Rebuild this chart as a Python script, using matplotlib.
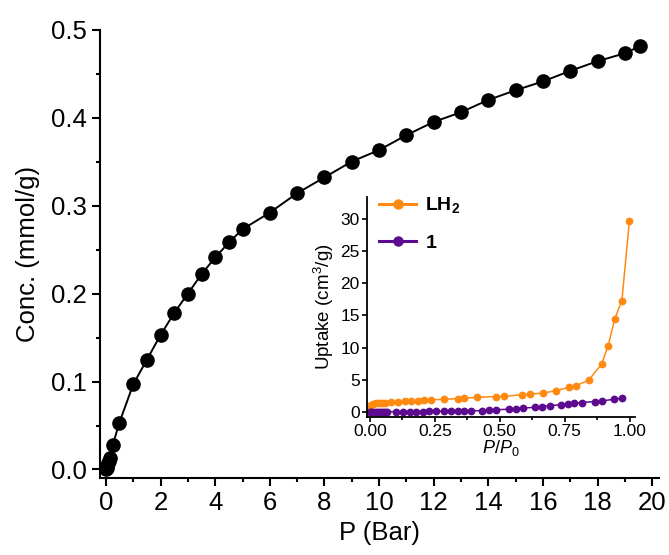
import numpy as np
import matplotlib
matplotlib.use('Agg')
import matplotlib.pyplot as plt
from matplotlib.ticker import MultipleLocator

plt.rcParams['font.family'] = ['Liberation Sans', 'DejaVu Sans']
plt.rcParams['mathtext.fontset'] = 'custom'
plt.rcParams['mathtext.rm'] = 'Liberation Sans'
plt.rcParams['mathtext.it'] = 'Liberation Sans:italic'
plt.rcParams['mathtext.bf'] = 'Liberation Sans:bold'

# main isotherm
pressure = [0.01, 0.03, 0.05, 0.07, 0.1, 0.13, 0.25, 0.48, 1.0, 1.5, 2.0, 2.5, 3.0, 3.5,
            4.0, 4.5, 5.0, 6.0, 7.0, 8.0, 9.0, 10.0, 11.0, 12.0, 13.0, 14.0, 15.0,
            16.0, 17.0, 18.0, 19.0, 19.55]
conc = [0.0, 0.002, 0.004, 0.007, 0.010, 0.013, 0.028, 0.0525, 0.097, 0.125, 0.153, 0.178,
        0.200, 0.222, 0.241, 0.258, 0.273, 0.292, 0.314, 0.332, 0.350, 0.363, 0.380,
        0.395, 0.406, 0.420, 0.431, 0.441, 0.453, 0.464, 0.473, 0.481]

# inset: LH2
lh2_x = [0.0, 0.005, 0.013, 0.025, 0.036, 0.046, 0.057, 0.083, 0.108, 0.134, 0.159,
         0.185, 0.21, 0.236, 0.287, 0.338, 0.363, 0.414, 0.484, 0.516, 0.586, 0.615,
         0.666, 0.717, 0.768, 0.794, 0.843, 0.892, 0.917, 0.943, 0.970, 0.999]
lh2_y = [0.9, 1.1, 1.28, 1.38, 1.43, 1.47, 1.5, 1.53, 1.62, 1.7, 1.75, 1.8, 1.86, 1.92,
         2.0, 2.12, 2.16, 2.3, 2.42, 2.45, 2.7, 2.8, 2.95, 3.35, 3.85, 4.1, 5.0, 7.45,
         10.3, 14.5, 17.3, 29.7]

# inset: compound 1
c1_x = [0.0, 0.005, 0.01, 0.018, 0.026, 0.034, 0.042, 0.05, 0.058, 0.066, 0.102, 0.127,
        0.153, 0.178, 0.204, 0.229, 0.255, 0.287, 0.312, 0.338, 0.363, 0.389, 0.433,
        0.459, 0.487, 0.535, 0.561, 0.59, 0.637, 0.662, 0.692, 0.736, 0.762, 0.787,
        0.818, 0.866, 0.894, 0.94, 0.97]
c1_y = [0.0, 0.02, 0.03, 0.04, 0.05, 0.05, 0.06, 0.06, 0.07, 0.07, 0.08, 0.08, 0.09,
        0.1, 0.1, 0.11, 0.12, 0.14, 0.15, 0.16, 0.18, 0.2, 0.25, 0.3, 0.38, 0.46, 0.56,
        0.62, 0.77, 0.88, 1.03, 1.13, 1.24, 1.39, 1.5, 1.65, 1.75, 2.0, 2.16]

fig = plt.figure(figsize=(6.69, 5.55), dpi=100)
ax = fig.add_axes([0.1495, 0.1382, 0.8355, 0.8086])

ax.plot(pressure, conc, color='black', lw=1.4, marker='o', ms=9.5, zorder=3)
ax.set_xlim(-0.22, 20.25)
ax.set_ylim(-0.01, 0.5)
ax.xaxis.set_major_locator(MultipleLocator(2))
ax.xaxis.set_minor_locator(MultipleLocator(1))
ax.yaxis.set_major_locator(MultipleLocator(0.1))
ax.yaxis.set_minor_locator(MultipleLocator(0.05))
ax.yaxis.set_major_formatter(matplotlib.ticker.FormatStrFormatter('%.1f'))
for s in ['top', 'right']:
    ax.spines[s].set_visible(False)
for s in ['left', 'bottom']:
    ax.spines[s].set_linewidth(1.5)
ax.tick_params(which='major', length=6, width=1.5, labelsize=18.5, direction='out')
ax.tick_params(which='minor', length=3, width=1.5, direction='out')
ax.set_xlabel('P (Bar)', fontsize=18.5, labelpad=4)
ax.set_ylabel('Conc. (mmol/g)', fontsize=18.5, labelpad=8)

# inset
ins = fig.add_axes([0.549, 0.2492, 0.400, 0.3964])
ins.plot(lh2_x, lh2_y, color='#FF8A12', lw=1.1, marker='o', ms=4.6, label=r'$\mathbf{LH_2}$')
ins.plot(c1_x, c1_y, color='#5C0B8E', lw=1.1, marker='o', ms=4.6, label=r'$\mathbf{1}$')
ins.set_xlim(-0.01, 1.02)
ins.set_ylim(-0.7, 33.4)
ins.xaxis.set_major_locator(MultipleLocator(0.25))
ins.xaxis.set_minor_locator(MultipleLocator(0.125))
ins.yaxis.set_major_locator(MultipleLocator(5))
ins.xaxis.set_major_formatter(matplotlib.ticker.FormatStrFormatter('%.2f'))
for s in ['top', 'right']:
    ins.spines[s].set_visible(False)
for s in ['left', 'bottom']:
    ins.spines[s].set_linewidth(1.3)
ins.tick_params(which='major', length=3.5, width=1.2, labelsize=12.5, pad=2)
ins.tick_params(which='minor', length=2, width=1.2)
ins.set_xlabel(r'$P/P_{\mathrm{0}}$', fontsize=13, labelpad=-1)
ins.set_ylabel(r'Uptake (cm$^{\mathrm{3}}$/g)', fontsize=13.5, labelpad=3)
leg = ins.legend(loc='upper left', bbox_to_anchor=(-0.02, 1.085), frameon=False,
                 fontsize=14, handlelength=1.9, handletextpad=0.45, labelspacing=0.95)
for h in leg.legend_handles:
    h.set_linewidth(2.2)
    h.set_markersize(6.5)

fig.savefig('out.png', dpi=100)
